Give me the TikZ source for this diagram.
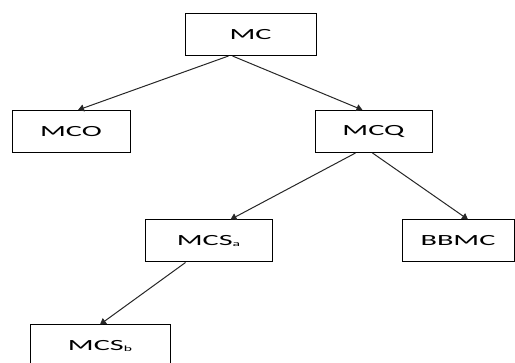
\documentclass[tikz,border=0pt]{standalone}
\usepackage{fontspec}
\setmainfont{Carlito}
\usepackage{graphicx}
\usetikzlibrary{arrows.meta}

\newcommand{\wlabel}[1]{\scalebox{1.95}[1]{#1}}
\newcommand{\sublabel}[1]{\raisebox{-1.5pt}{\fontsize{8}{9}\selectfont #1}}

\begin{document}
\begin{tikzpicture}[x=1pt,y=-1pt,
  box/.style={draw=black, line width=1pt, minimum height=42pt, inner sep=0pt, font=\fontsize{15.5}{18}\selectfont},
  link/.style={draw=black!85, line width=1pt, -{Triangle[length=6pt,width=7pt]}}]
%\draw[help lines] (0,0) grid (515,363);
\useasboundingbox (0,0) rectangle (515,363);

\node[box, minimum width=131pt] (mc)   at (250.5,34.5) {\wlabel{MC}};
\node[box, minimum width=118pt] (mco)  at (71,131.5)   {\wlabel{MCO}};
\node[box, minimum width=117pt] (mcq)  at (373.5,131.5) {\wlabel{MCQ}};
\node[box, minimum width=127pt] (mcsa) at (208.5,241)  {\wlabel{MCS\sublabel{a}}};
\node[box, minimum width=112pt] (bbmc) at (458,241)    {\wlabel{BBMC}};
\node[box, minimum width=140pt] (mcsb) at (100,346)    {\wlabel{MCS\sublabel{b}}};

\draw[link] ([xshift=-22pt]mc.south) -- ([xshift=7pt]mco.north);
\draw[link] ([xshift=-18pt]mc.south) -- ([xshift=-11pt]mcq.north);
\draw[link] ([xshift=-18pt]mcq.south) -- ([xshift=22pt]mcsa.north);
\draw[link] ([xshift=-1pt]mcq.south) -- ([xshift=10pt]bbmc.north);
\draw[link] ([xshift=-23pt]mcsa.south) -- (mcsb.north);
\end{tikzpicture}
\end{document}
